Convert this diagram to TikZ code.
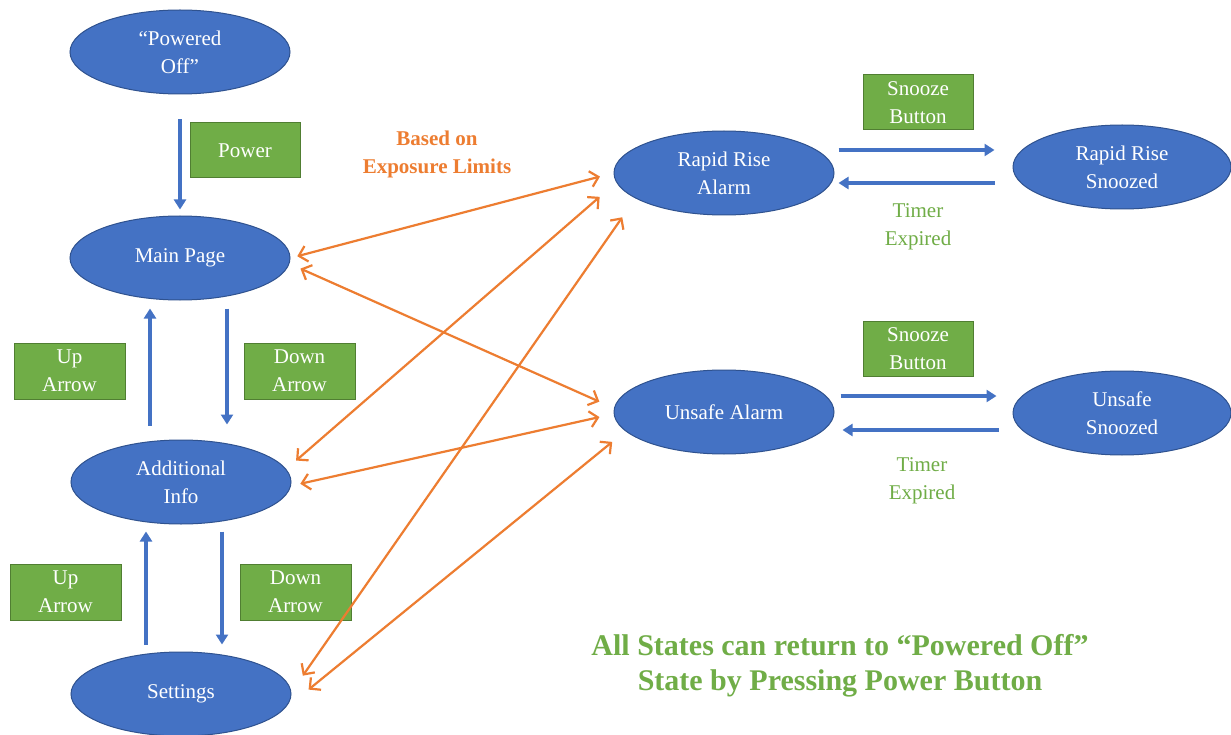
\documentclass[tikz,border=0pt]{standalone}
\usepackage{fontspec}
\setmainfont{Liberation Serif}
\usetikzlibrary{arrows.meta,shapes.geometric}
\definecolor{stateblue}{HTML}{4472C4}
\definecolor{stateedge}{HTML}{2F528F}
\definecolor{keygreen}{HTML}{70AD47}
\definecolor{keyedge}{HTML}{507E32}
\definecolor{linkorange}{HTML}{ED7D31}

\tikzset{
  state/.style={ellipse, fill=stateblue, draw=stateedge, line width=1pt,
    minimum width=220pt, minimum height=84pt, inner sep=0pt, text=white,
    align=center, font=\fontsize{21}{28}\selectfont},
  keybox/.style={rectangle, fill=keygreen, draw=keyedge, line width=1pt,
    minimum width=110pt, minimum height=55pt, inner sep=0pt, text=white,
    align=center, font=\fontsize{21}{28}\selectfont},
  flow/.style={draw=stateblue, line width=3.4pt, -{Triangle[length=10pt,width=12pt]}},
  link/.style={draw=linkorange, line width=2.2pt,
    {Straight Barb[length=8pt,width=16pt]}-{Straight Barb[length=8pt,width=16pt]}},
  note/.style={align=center, text=keygreen, font=\fontsize{21}{28}\selectfont}
}

\begin{document}
\begin{tikzpicture}[x=1pt,y=-1pt]
  \fill[white] (0,0) rectangle (1231,735);
  \useasboundingbox (0,0) rectangle (1231,735);

  % states on the left
  \node[state] (po) at (180,52)  {“Powered\\Off”};
  \node[state] (main) at (180,258) {Main Page};
  \node[state] (ai) at (181,482) {Additional\\Info};
  \node[state] (st) at (181,694) {Settings};

  % alarm states
  \node[state] (rr) at (724,173) {Rapid Rise\\Alarm};
  \node[state, minimum width=218pt] (rrs) at (1122,167) {Rapid Rise\\Snoozed};
  \node[state] (ua) at (724,412) {Unsafe Alarm};
  \node[state, minimum width=218pt] (uas) at (1122,413) {Unsafe\\Snoozed};

  % key labels
  \node[keybox] (kpow) at (245,150.5) {Power};
  \node[keybox, minimum width=111pt, minimum height=56pt] (kup1) at (69.5,371) {Up\\Arrow};
  \node[keybox, minimum width=111pt, minimum height=56pt] (kdn1) at (299.5,371) {Down\\Arrow};
  \node[keybox, minimum width=111pt, minimum height=56pt] (kup2) at (65.5,592) {Up\\Arrow};
  \node[keybox, minimum width=111pt, minimum height=56pt] (kdn2) at (295.5,592) {Down\\Arrow};
  \node[keybox] (ksn1) at (918,102.5) {Snooze\\Button};
  \node[keybox] (ksn2) at (918,348.5) {Snooze\\Button};

  % free text
  \node[align=center, text=linkorange, font=\fontsize{21}{28}\selectfont\bfseries] (expo) at (437,154) {Based on\\Exposure Limits};
  \node[note] (tmr1) at (918,227) {Timer\\Expired};
  \node[note] (tmr2) at (922,481) {Timer\\Expired};
  \node[align=center, text=keygreen, font=\fontsize{30}{35}\selectfont\bfseries] (ret) at (840,666)
    {All States can return to “Powered Off”\\State by Pressing Power Button};

  % menu navigation
  \draw[flow, shorten <=25pt, shorten >=6pt] (po.south) -- (main.north);
  \draw[flow, shorten <=14pt, shorten >=8pt] ([xshift=-31pt]ai.north) -- ([xshift=-30pt]main.south);
  \draw[flow, shorten <=8pt, shorten >=15pt] ([xshift=47pt]main.south) -- ([xshift=46pt]ai.north);
  \draw[flow, shorten <=7pt, shorten >=7pt] ([xshift=-35pt]st.north) -- ([xshift=-35pt]ai.south);
  \draw[flow, shorten <=7pt, shorten >=7pt] ([xshift=41pt]ai.south) -- ([xshift=41pt]st.north);

  % snooze / timer transitions
  \draw[flow, shorten <=4pt, shorten >=18pt] ([yshift=23pt]rr.east) -- ([yshift=17pt]rrs.west);
  \draw[flow, shorten <=18pt, shorten >=4pt] ([yshift=-16pt]rrs.west) -- ([yshift=-10pt]rr.east);
  \draw[flow, shorten <=6pt, shorten >=16pt] ([yshift=16pt]ua.east) -- ([yshift=17pt]uas.west);
  \draw[flow, shorten <=14pt, shorten >=8pt] ([yshift=-17pt]uas.west) -- ([yshift=-18pt]ua.east);

  % alarm links
  \draw[link, shorten <=7pt, shorten >=14pt] (main.east) -- (rr.west);
  \draw[link, shorten <=12pt, shorten >=16pt] (main.-3) -- (ua.178);
  \draw[link, shorten <=13pt, shorten >=22pt] (ai.7) -- (rr.185);
  \draw[link, shorten <=9.5pt, shorten >=14.5pt] (ai.-2) -- (ua.181);
  \draw[link, shorten <=20pt, shorten >=23pt] (st.1) -- (rr.196);
  \draw[link, shorten <=35pt, shorten >=17pt] (st.-10) -- (ua.191);
\end{tikzpicture}
\end{document}
